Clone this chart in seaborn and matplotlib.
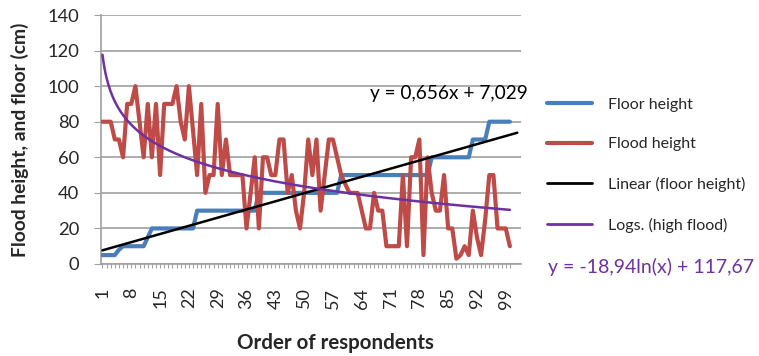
import numpy as np
import pandas as pd
import matplotlib
matplotlib.use("Agg")
import matplotlib.pyplot as plt
from matplotlib.lines import Line2D
import seaborn as sns

# Respondents 1..100
respondents = list(range(1, 101))

# Floor height of each house (cm)
floor_height = [5, 5, 5, 5, 8, 10, 10, 10, 10, 10,
                10, 15, 20, 20, 20, 20, 20, 20, 20, 20,
                20, 20, 20, 30, 30, 30, 30, 30, 30, 30,
                30, 30, 30, 30, 30, 30, 30, 30, 40, 40,
                40, 40, 40, 40, 40, 40, 40, 40, 40, 40,
                40, 40, 40, 40, 40, 40, 40, 40, 50, 50,
                50, 50, 50, 50, 50, 50, 50, 50, 50, 50,
                50, 50, 50, 50, 50, 50, 50, 50, 50, 50,
                60, 60, 60, 60, 60, 60, 60, 60, 60, 60,
                70, 70, 70, 70, 80, 80, 80, 80, 80, 80]

# Flood height reported by each respondent (cm)
flood_height = [80, 80, 80, 70, 70, 60, 90, 90, 100, 80,
                60, 90, 60, 90, 50, 90, 90, 90, 100, 80,
                70, 100, 75, 50, 90, 40, 50, 50, 90, 50,
                70, 50, 50, 50, 50, 20, 40, 60, 20, 60,
                60, 50, 50, 70, 70, 40, 50, 30, 20, 40,
                70, 50, 70, 30, 50, 70, 70, 60, 50, 45,
                40, 40, 40, 30, 20, 20, 40, 30, 30, 10,
                10, 10, 10, 50, 10, 60, 60, 70, 5, 60,
                40, 30, 30, 50, 20, 20, 3, 5, 10, 5,
                30, 15, 5, 25, 50, 50, 20, 20, 20, 10]

# Trend line coefficients as printed on the chart
lin_slope, lin_intercept = 0.656, 7.029
log_coef, log_intercept = -18.94, 117.67

y_ticks = [0, 20, 40, 60, 80, 100, 120, 140]
x_tick_labels = [1, 8, 15, 22, 29, 36, 43, 50, 57, 64, 71, 78, 85, 92, 99]

series_names = ["Floor height", "Flood height"]
legend_labels = ["Floor height", "Flood height", "Linear (floor height)", "Logs. (high flood)"]

BLUE = "#4A7EBB"
RED = "#BE4B48"
BLACK = "#000000"
PURPLE = "#7030A0"
GRID = "#A0A0A0"

sns.set_theme(style="white")
plt.rcParams["font.family"] = ["Lato", "DejaVu Sans"]

df = pd.DataFrame({"respondent": respondents,
                   "Floor height": floor_height,
                   "Flood height": flood_height})
long = df.melt(id_vars="respondent", value_vars=series_names,
               var_name="series", value_name="cm")

fig = plt.figure(figsize=(7.59, 3.56), dpi=100)
ax = fig.add_axes([101 / 759, 1 - 264 / 356, 420 / 759, 249 / 356])

sns.lineplot(data=long, x="respondent", y="cm", hue="series",
             palette={"Floor height": BLUE, "Flood height": RED},
             linewidth=3.0, legend=False, ax=ax, zorder=3)
for ln in ax.get_lines():
    ln.set_solid_capstyle("round")
    ln.set_solid_joinstyle("round")

# Linear trend of floor height and logarithmic trend of flood height
x_lin = np.linspace(1, 101.8, 200)
ax.plot(x_lin, lin_slope * x_lin + lin_intercept, color=BLACK, lw=1.8, zorder=5)
x_log = np.linspace(1, 100, 400)
ax.plot(x_log, log_coef * np.log(x_log) + log_intercept, color=PURPLE, lw=1.8, zorder=5)

ax.set_xlim(0.64, 102.7)
ax.set_ylim(0, 140)
ax.set_yticks(y_ticks)
ax.set_yticklabels([str(v) for v in y_ticks], fontsize=13.2)
ax.set_xticks(respondents)
ax.set_xticklabels([str(r) if r in x_tick_labels else "" for r in respondents],
                   rotation=90, fontsize=13)
ax.tick_params(axis="x", length=3, width=0.8, color=GRID, pad=14, bottom=True)
ax.tick_params(axis="y", length=5, width=0.8, color=GRID, pad=10.5, left=True)

ax.yaxis.grid(True, color=GRID, lw=1.2)
ax.set_axisbelow(True)
for side in ("top", "right"):
    ax.spines[side].set_visible(False)
for side in ("left", "bottom"):
    ax.spines[side].set_color(GRID)
    ax.spines[side].set_linewidth(1.2)

ax.set_xlabel("")
ax.set_ylabel("Flood height, and floor (cm)", fontsize=13.9, fontweight="bold")
ax.yaxis.set_label_coords(-0.171, 0.5)
fig.text(335 / 759, 1 - 343 / 356, "Order of respondents", fontsize=14.8,
         fontweight="bold", ha="center", va="center")

fig.text(370 / 759, 1 - 93 / 356, "y = 0,656x + 7,029",
         fontsize=13.7, color=BLACK, ha="left", va="center")
fig.text(548 / 759, 1 - 267 / 356, "y = -18,94ln(x) + 117,67", fontsize=14,
         color=PURPLE, ha="left", va="center")

handles = [Line2D([], [], color=BLUE, lw=3.0),
           Line2D([], [], color=RED, lw=3.0),
           Line2D([], [], color=BLACK, lw=2.0),
           Line2D([], [], color=PURPLE, lw=2.0)]
fig.legend(handles, legend_labels, loc="upper left",
           bbox_to_anchor=(532.5 / 759, 1 - 83 / 356), frameon=False,
           fontsize=11.5, handlelength=2.8, handletextpad=1.0, labelspacing=1.6)

fig.savefig("out.png", dpi=100)
